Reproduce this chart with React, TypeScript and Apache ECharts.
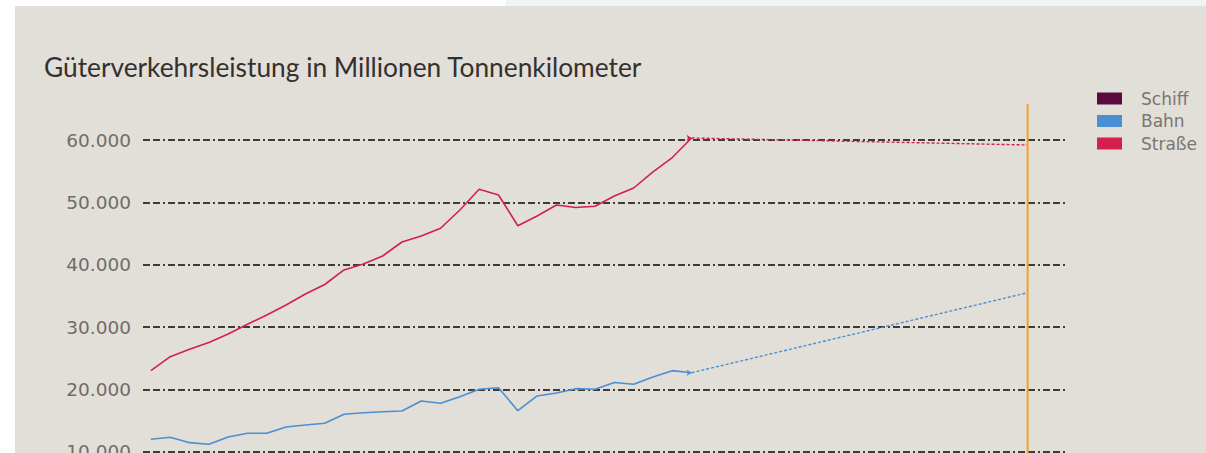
import React, { useEffect, useRef } from "react";
import * as echarts from "echarts";

const title = "Güterverkehrsleistung in Millionen Tonnenkilometer";
const legendNames = ["Schiff", "Bahn", "Straße"];
const years = [
  1980, 1981, 1982, 1983, 1984, 1985, 1986, 1987, 1988, 1989,
  1990, 1991, 1992, 1993, 1994, 1995, 1996, 1997, 1998, 1999,
  2000, 2001, 2002, 2003, 2004, 2005, 2006, 2007, 2008,
];
const strasse = [
  23000, 25240, 26430, 27520, 28880, 30450, 31930, 33530, 35300, 36820,
  39150, 40110, 41390, 43640, 44600, 45840, 48770, 52090, 51180, 46250,
  47810, 49570, 49170, 49370, 51020, 52300, 54870, 57190, 60320,
];
const bahn = [
  11990, 12310, 11450, 11190, 12360, 12950, 12950, 13970, 14290, 14560,
  16000, 16260, 16420, 16530, 18140, 17770, 18830, 20010, 20270, 16580,
  18940, 19420, 20110, 20010, 21100, 20810, 21990, 23000, 22670,
];
const schiff: number[] = [];
const targetYear = 2025.4;
const strasseTarget = 59200;
const bahnTarget = 35500;
const targetLineSpan = [9000, 65800];

const colors = {
  schiff: "#5a0a3e",
  bahn: "#4a8fd3",
  strasse: "#d3204c",
  target: "#f2a22c",
  grid: "#3e3c3a",
};

const fmt = (v: number) => String(v).replace(/\B(?=(\d{3})+(?!\d))/g, ".");

export default function App() {
  const ref = useRef<HTMLDivElement>(null);
  useEffect(() => {
    if (!ref.current) return;
    const chart = echarts.init(ref.current, null, { renderer: "svg" });
    const last = years.length - 1;
    chart.setOption({
      animation: false,
      backgroundColor: "#ffffff",
      graphic: [
        { type: "rect", z: -10, shape: { x: 505, y: 0, width: 701, height: 8, r: 4 }, style: { fill: "#eef3f6" } },
        { type: "rect", z: -9, shape: { x: 15, y: 6, width: 1191, height: 447 }, style: { fill: "#e2ded8" } },
      ],
      title: {
        text: title,
        left: 39,
        top: 49,
        textStyle: { fontFamily: "Lato", fontSize: 26.3, fontWeight: "normal", color: "#34302e" },
      },
      legend: {
        data: legendNames,
        orient: "vertical",
        left: 1092,
        top: 85,
        icon: "rect",
        itemWidth: 25,
        itemHeight: 12,
        itemGap: 5.5,
        textStyle: {
          color: "#7a7674",
          fontSize: 17,
          fontFamily: "DejaVu Sans",
          padding: [0, 0, 0, 14],
        },
      },
      grid: { left: 143, right: 139, top: 140, height: 311.7, outerBoundsMode: "none" },
      xAxis: {
        type: "value",
        min: 1979.59,
        max: 2027.44,
        show: false,
      },
      yAxis: {
        type: "value",
        min: 10000,
        max: 60000,
        interval: 10000,
        axisLine: { show: false },
        axisTick: { show: false },
        axisLabel: {
          margin: 12,
          formatter: (v: number) => fmt(v),
          color: "#706c6a",
          fontSize: 18.5,
          fontFamily: "DejaVu Sans",
        },
        splitLine: { lineStyle: { color: colors.grid, width: 2, type: [7, 3, 7, 3, 2, 3] } },
      },
      series: [
        { name: "Schiff", type: "line", data: schiff, color: colors.schiff, symbol: "none" },
        {
          name: "Bahn",
          type: "line",
          color: colors.bahn,
          data: years.map((y, i) => [y, bahn[i]]),
          symbol: "none",
          clip: false,
          lineStyle: { width: 1.6 },
        },
        {
          name: "Straße",
          type: "line",
          color: colors.strasse,
          data: years.map((y, i) => [y, strasse[i]]),
          symbol: "none",
          clip: false,
          lineStyle: { width: 1.6 },
        },
        {
          name: "Bahn Prognose",
          type: "line",
          color: colors.bahn,
          data: [
            { value: [years[last], bahn[last]], symbol: "arrow", symbolSize: 5, symbolRotate: -90 },
            { value: [targetYear, bahnTarget], symbol: "none" },
          ],
          clip: false,
          lineStyle: { width: 1.4, type: [3, 2] },
        },
        {
          name: "Straße Prognose",
          type: "line",
          color: colors.strasse,
          data: [
            { value: [years[last], strasse[last]], symbol: "arrow", symbolSize: 5, symbolRotate: -90 },
            { value: [targetYear, strasseTarget], symbol: "none" },
          ],
          clip: false,
          lineStyle: { width: 1.4, type: [3, 2] },
        },
        {
          name: "Zieljahr",
          type: "line",
          color: colors.target,
          data: targetLineSpan.map((v) => [targetYear, v]),
          symbol: "none",
          clip: false,
          lineStyle: { width: 2 },
        },
      ],
    });
    return () => chart.dispose();
  }, []);
  return <div ref={ref} style={{ position: "fixed", left: 0, top: 0, width: 1206, height: 453 }} />;
}
